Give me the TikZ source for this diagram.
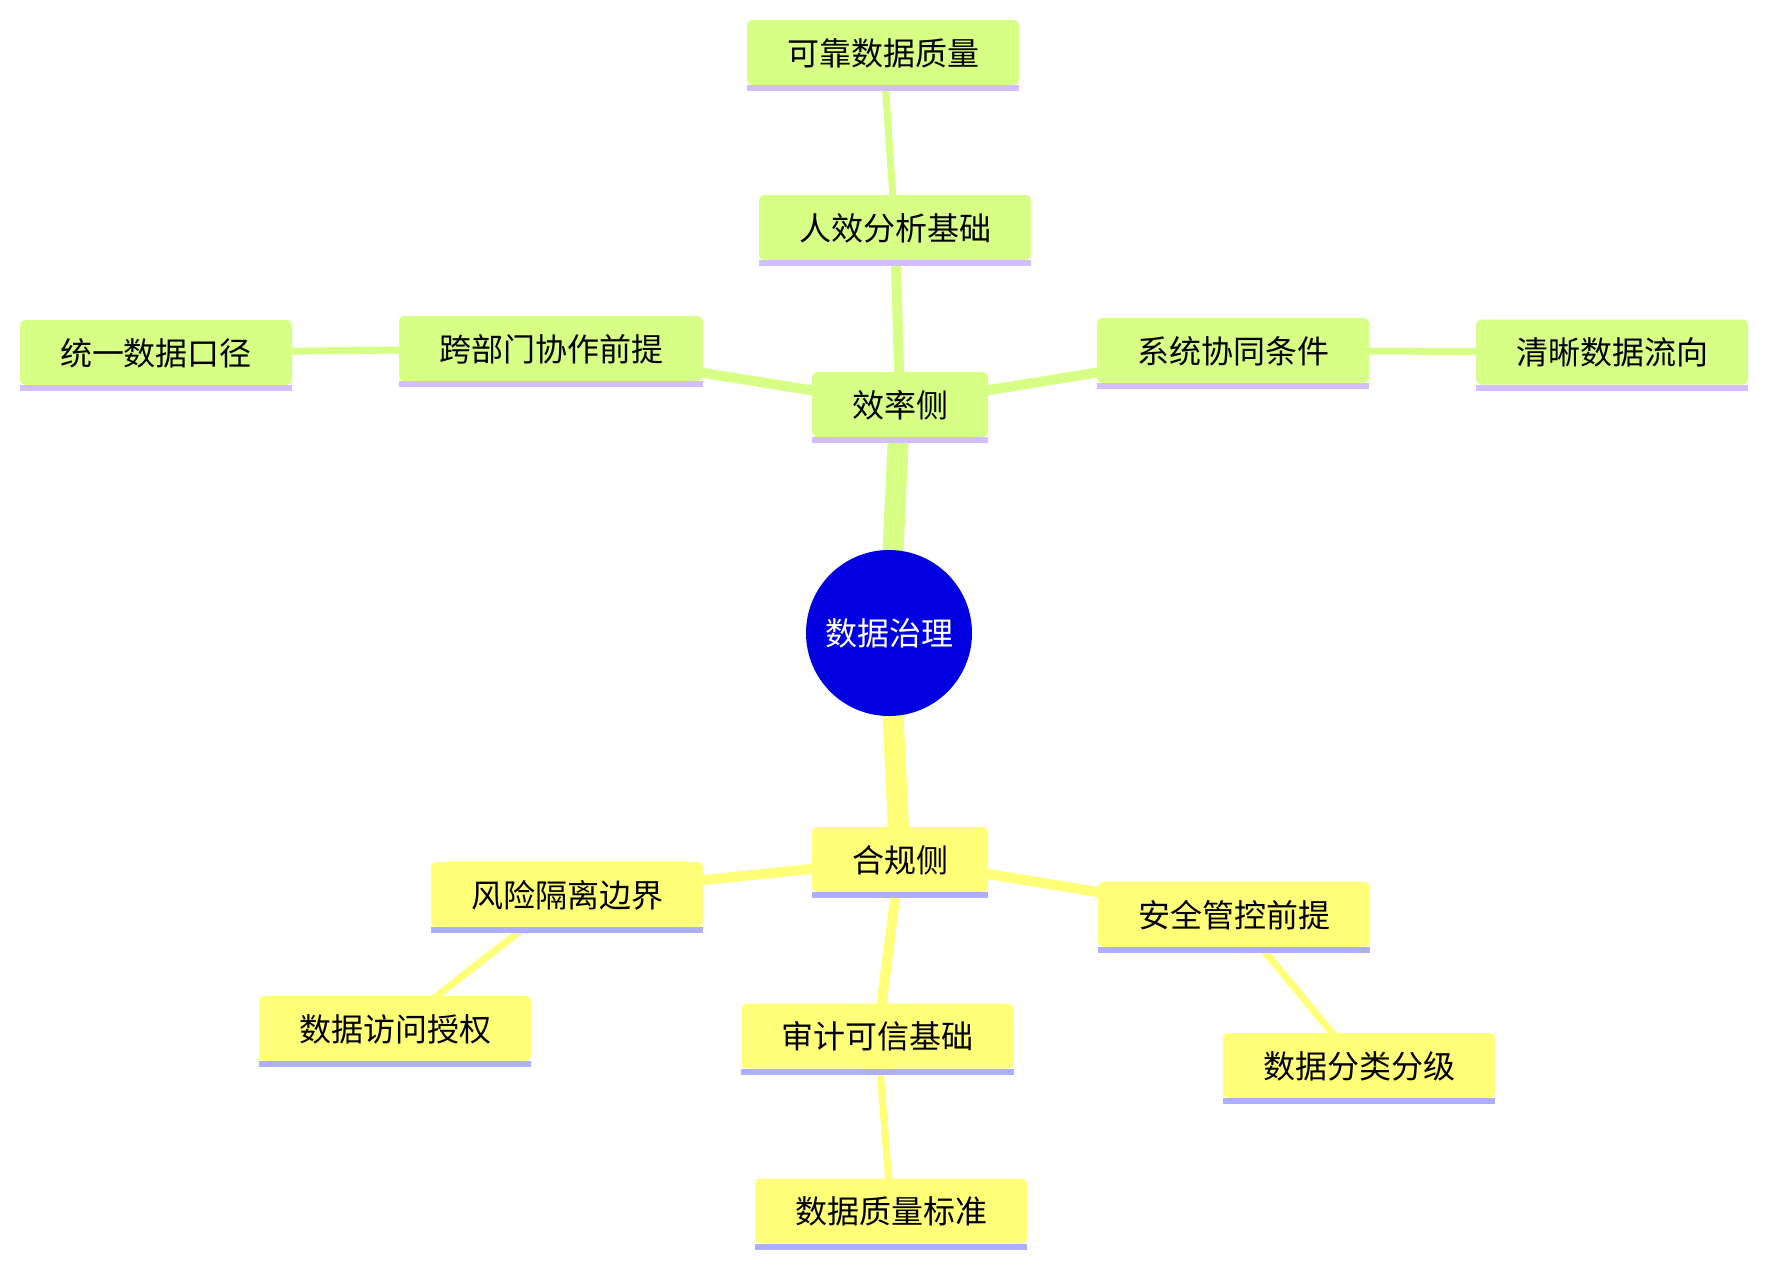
\documentclass[tikz,border=0pt]{standalone}
\usepackage{fontspec}
\setmainfont{Noto Sans CJK SC}
\usepackage{xcolor}
\usetikzlibrary{backgrounds}
\definecolor{rootblue}{HTML}{0000E0}
\definecolor{effgreen}{HTML}{D7FF86}
\definecolor{effline}{HTML}{D3BEFF}
\definecolor{compyellow}{HTML}{FFFF78}
\definecolor{compline}{HTML}{AEAEFF}

\begin{document}
\begin{tikzpicture}[x=0.5pt, y=-0.5pt,
  root/.style={circle, fill=rootblue, minimum size=83pt, inner sep=0pt,
               text=white, font=\fontsize{16}{19}\selectfont},
  effbox/.style={fill=effgreen, rounded corners=2.5pt, minimum height=32.5pt,
                 inner xsep=20pt, inner ysep=0pt, text height=1.3em, text depth=0.02em,
                 font=\fontsize{16}{19}\selectfont},
  compbox/.style={effbox, fill=compyellow},
  lvlone/.style={line width=10.5pt},
  lvltwo/.style={line width=5pt},
  lvlthree/.style={line width=3.5pt},
  effbar/.style={effline, line width=3pt},
  compbar/.style={compline, line width=3pt},
]
\useasboundingbox (0,0) rectangle (1767,1266);

% Centre
\node[root] (root) at (889,633) {数据治理};

% Efficiency branch (top)
\node[effbox] (eff) at (900,404.5) {效率侧};
\node[effbox] (renxiao) at (895,227.5) {人效分析基础};
\node[effbox] (kekao) at (883,52.5) {可靠数据质量};
\node[effbox] (kuabu) at (551,348.5) {跨部门协作前提};
\node[effbox] (tongyi) at (156,352.5) {统一数据口径};
\node[effbox] (xitong) at (1233,350.5) {系统协同条件};
\node[effbox] (qingxi) at (1612,352) {清晰数据流向};

% Compliance branch (bottom)
\node[compbox] (comp) at (900,859.5) {合规侧};
\node[compbox] (fengxian) at (567,894.5) {风险隔离边界};
\node[compbox] (fangwen) at (395,1028.5) {数据访问授权};
\node[compbox] (shenji) at (877.5,1036) {审计可信基础};
\node[compbox] (zhiliang) at (891,1211) {数据质量标准};
\node[compbox] (anquan) at (1234,914.5) {安全管控前提};
\node[compbox] (fenlei) at (1359,1065.5) {数据分类分级};

% Underlines
\foreach \n in {eff,renxiao,kekao,kuabu,tongyi,xitong,qingxi}
  \draw[effbar] ([yshift=-1.5pt]\n.south west) -- ([yshift=-1.5pt]\n.south east);
\foreach \n in {comp,fengxian,fangwen,shenji,zhiliang,anquan,fenlei}
  \draw[compbar] ([yshift=-1.5pt]\n.south west) -- ([yshift=-1.5pt]\n.south east);

% Branch edges, behind the nodes
\begin{scope}[on background layer]
\draw[lvlone, effgreen] (root.center) -- (eff.center);
\draw[lvltwo, effgreen] (eff.center) -- (renxiao.center);
\draw[lvltwo, effgreen] (eff.center) -- (kuabu.center);
\draw[lvltwo, effgreen] (eff.center) -- (xitong.center);
\draw[lvlthree, effgreen] (renxiao.center) -- (kekao.center);
\draw[lvlthree, effgreen] (kuabu.center) -- (tongyi.center);
\draw[lvlthree, effgreen] (xitong.center) -- (qingxi.center);

\draw[lvlone, compyellow] (root.center) -- (comp.center);
\draw[lvltwo, compyellow] (comp.center) -- (fengxian.center);
\draw[lvltwo, compyellow] (comp.center) -- (shenji.center);
\draw[lvltwo, compyellow] (comp.center) -- (anquan.center);
\draw[lvlthree, compyellow] (fengxian.center) -- (fangwen.center);
\draw[lvlthree, compyellow] (shenji.center) -- (zhiliang.center);
\draw[lvlthree, compyellow] (anquan.center) -- (fenlei.center);
\end{scope}
\end{tikzpicture}
\end{document}
